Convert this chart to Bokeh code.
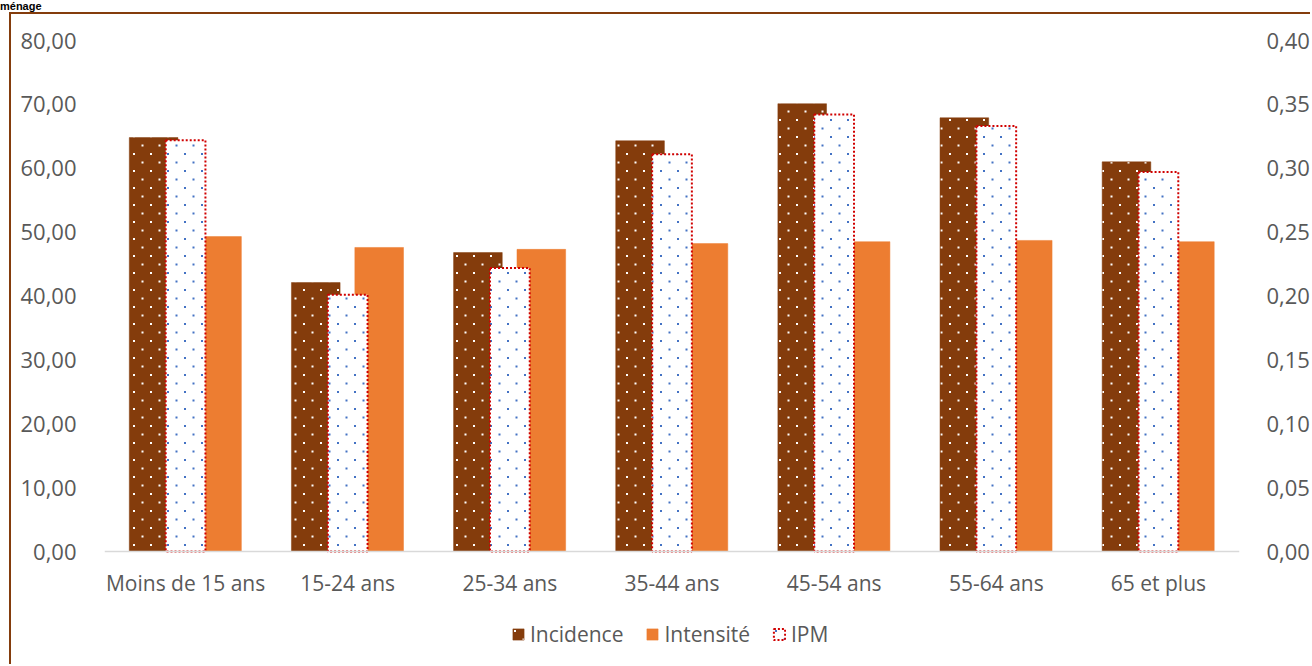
import base64
from bokeh.plotting import figure
from bokeh.layouts import column
from bokeh.core.properties import value
from bokeh.models import (FactorRange, Range1d, LinearAxis, FixedTicker, CustomJSTickFormatter,
                          Legend, LegendItem, ColumnDataSource, Div, ImageURLTexture, Span)
from bokeh.transform import dodge
from bokeh.embed import file_html
from bokeh.resources import INLINE

categories = ["Moins de 15 ans", "15-24 ans", "25-34 ans", "35-44 ans",
              "45-54 ans", "55-64 ans", "65 et plus"]
incidence = [64.8, 42.1, 46.8, 64.3, 70.1, 67.9, 61.0]
intensite = [49.3, 47.6, 47.3, 48.2, 48.5, 48.7, 48.5]
ipm = [0.322, 0.201, 0.222, 0.311, 0.342, 0.333, 0.297]
left_ticks = [0, 10, 20, 30, 40, 50, 60, 70, 80]
right_ticks = [0, 0.05, 0.10, 0.15, 0.20, 0.25, 0.30, 0.35, 0.40]

FONT = "Open Sans"
TXT = "#595959"
BROWN = "#843C0C"
ORANGE = "#ED7D31"

# layout (pixels inside the chart canvas)
W, H = 1301, 652
TOP_PX, ZERO_PX = 26, 537          # where 80 and 0 sit
LEFT_B, RIGHT_B = 93, 71
Y_MAX, Y2_MAX = 80, 0.4
y_min = -Y_MAX * (H - ZERO_PX) / (ZERO_PX - TOP_PX)


def dot_tile(color):
    svg = ("<svg xmlns='http://www.w3.org/2000/svg' width='17' height='17'>"
           f"<rect x='3' y='3' width='2' height='2' fill='{color}'/>"
           f"<rect x='11.5' y='11.5' width='2' height='2' fill='{color}'/></svg>")
    return "data:image/svg+xml;base64," + base64.b64encode(svg.encode()).decode()


src = ColumnDataSource(dict(cat=categories, inc=incidence, inten=intensite, ipm=ipm))

p = figure(x_range=FactorRange(*categories, range_padding=0), y_range=Range1d(y_min, Y_MAX),
           width=W, height=H, output_backend="svg", toolbar_location=None,
           min_border_left=LEFT_B, min_border_right=RIGHT_B, min_border_top=TOP_PX,
           min_border_bottom=0)
p.styles = {"margin-left": "9px", "border-left": "2px solid #843C0C",
            "border-top": "2px solid #843C0C"}
p.extra_y_ranges = {"ipm": Range1d(y_min * Y2_MAX / Y_MAX, Y2_MAX)}
p.outline_line_color = None
p.xgrid.grid_line_color = None
p.ygrid.grid_line_color = None
p.xaxis.visible = False

fmt = CustomJSTickFormatter(code="return tick.toFixed(2).replace('.', ',');")

ya = p.yaxis[0]
ya.ticker = FixedTicker(ticks=left_ticks)
ya.formatter = fmt
ya.axis_line_color = None
ya.major_tick_line_color = None
ya.minor_tick_line_color = None
ya.major_label_standoff = 22
ya.major_label_text_font = FONT
ya.major_label_text_font_size = "22px"
ya.major_label_text_color = TXT

ra = LinearAxis(y_range_name="ipm", ticker=FixedTicker(ticks=right_ticks), formatter=fmt)
ra.axis_line_color = None
ra.major_tick_line_color = None
ra.minor_tick_line_color = None
ra.major_label_standoff = 21
ra.major_label_text_font = FONT
ra.major_label_text_font_size = "22px"
ra.major_label_text_color = TXT
p.add_layout(ra, "right")

# category axis baseline and labels
p.add_layout(Span(location=0, dimension="width", line_color="#D9D9D9", line_width=1.5))
p.text(x="cat", y=0, text="cat", source=src, y_offset=31, text_align="center",
       text_baseline="middle", text_font=value(FONT), text_font_size="21px",
       text_color=TXT)

r_inc = p.vbar(x=dodge("cat", -0.197, range=p.x_range), top="inc", width=0.30, source=src,
               fill_color=BROWN, line_color=BROWN, line_width=0.5,
               hatch_pattern=dict(value="wdots"),
               hatch_extra={"wdots": ImageURLTexture(url=dot_tile("white"))})
r_int = p.vbar(x=dodge("cat", 0.194, range=p.x_range), top="inten", width=0.30, source=src,
               fill_color=ORANGE, line_color=ORANGE, line_width=0.5)
r_ipm = p.vbar(x=dodge("cat", 0.0, range=p.x_range), top="ipm", width=0.245, source=src,
               y_range_name="ipm", fill_color="white", line_color="#D00000", line_width=2,
               line_dash="2 2", hatch_pattern=dict(value="bdots"),
               hatch_extra={"bdots": ImageURLTexture(url=dot_tile("#4472C4"))})

legend = Legend(items=[LegendItem(label="Incidence", renderers=[r_inc]),
                       LegendItem(label="Intensité", renderers=[r_int]),
                       LegendItem(label="IPM", renderers=[r_ipm])],
                location=(407, 18), orientation="horizontal",
                glyph_width=14, glyph_height=14, label_standoff=5, spacing=22,
                padding=0, margin=0, border_line_alpha=0, background_fill_alpha=0,
                label_text_font=FONT, label_text_font_size="21px", label_text_color=TXT)
p.add_layout(legend, "center")

title = Div(text="ménage", width=300, height=12, margin=0,
            styles={"font-family": "Liberation Sans", "font-weight": "bold",
                    "font-size": "11px", "line-height": "12px", "color": "black"})

layout = column(title, p, spacing=0)
open("out.html", "w").write(file_html(layout, INLINE))
